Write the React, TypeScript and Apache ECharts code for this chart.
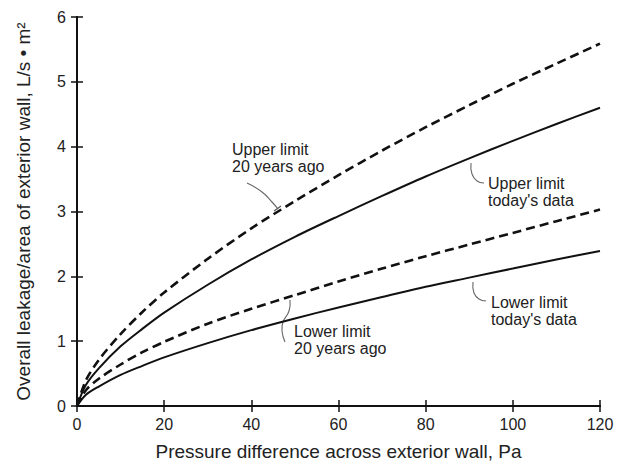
import React, { useEffect, useRef } from "react";
import * as echarts from "echarts";

const pressure = [0, 2, 5, 10, 15, 20, 30, 40, 50, 60, 70, 80, 90, 100, 110, 120];
const upper20YearsAgo = [0, 0.39, 0.71, 1.11, 1.45, 1.75, 2.27, 2.74, 3.16, 3.56, 3.94, 4.3, 4.64, 4.97, 5.28, 5.59];
const upperToday = [0, 0.32, 0.58, 0.92, 1.19, 1.44, 1.87, 2.26, 2.61, 2.93, 3.24, 3.54, 3.82, 4.09, 4.35, 4.6];
const lower20YearsAgo = [0, 0.24, 0.42, 0.64, 0.83, 0.99, 1.27, 1.5, 1.71, 1.92, 2.12, 2.31, 2.49, 2.67, 2.85, 3.03];
const lowerToday = [0, 0.17, 0.3, 0.48, 0.62, 0.75, 0.97, 1.17, 1.35, 1.52, 1.68, 1.84, 1.98, 2.12, 2.26, 2.39];

const xTitle = "Pressure difference across exterior wall, Pa";
const yTitle = "Overall leakage/area of exterior wall, L/s \u2022 m\u00B2";

const FONT = "'Liberation Sans', Arial, sans-serif";

const pairs = (ys: number[]) => pressure.map((x, i) => [x, ys[i]]);

export default function App() {
  const ref = useRef<HTMLDivElement>(null);
  useEffect(() => {
    if (!ref.current) return;
    const chart = echarts.init(ref.current, undefined, { renderer: "svg" });
    const axisCommon = {
      axisLine: { show: true, lineStyle: { color: "#111", width: 2 } },
      axisTick: { show: true, inside: true, length: 6, lineStyle: { color: "#111", width: 1.5 } },
      splitLine: { show: false },
    };
    const labelStyle = { color: "#222", fontSize: 16, fontFamily: FONT };
    const lineSeries = (name: string, ys: number[], dashed: boolean) => ({
      name,
      type: "line",
      data: pairs(ys),
      smooth: 0.3,
      showSymbol: false,
      symbol: "none",
      lineStyle: {
        color: "#111",
        width: dashed ? 2.6 : 2,
        type: dashed ? [9, 5] : "solid",
      },
      xAxisIndex: 0,
      yAxisIndex: 0,
    });
    const textEl = (x: number, y: number, t: string) => ({
      type: "text",
      left: x,
      top: y,
      style: { text: t, fill: "#222", font: `16px ${FONT}`, lineHeight: 17 },
    });
    const leader = (pts: number[][]) => ({
      type: "polyline",
      shape: { points: pts, smooth: 0.5 },
      style: { stroke: "#666", lineWidth: 1.1, fill: null },
    });
    chart.setOption({
      animation: false,
      backgroundColor: "#fff",
      grid: { left: 77, right: 35, top: 17, bottom: 56, containLabel: false, outerBoundsMode: "none" },
      xAxis: [
        {
          type: "value",
          min: 0,
          max: 120,
          interval: 20,
          position: "bottom",
          ...axisCommon,
          axisLabel: { ...labelStyle, margin: 10 },
          name: xTitle,
          nameLocation: "middle",
          nameGap: 36,
          nameTextStyle: { color: "#222", fontSize: 19, fontFamily: FONT },
        },
        {
          type: "value",
          min: 0,
          max: 120,
          interval: 20,
          position: "top",
          ...axisCommon,
          axisLabel: { show: false },
        },
      ],
      yAxis: [
        {
          type: "value",
          min: 0,
          max: 6,
          interval: 1,
          position: "left",
          ...axisCommon,
          axisLabel: { ...labelStyle, margin: 11 },
          name: yTitle,
          nameLocation: "middle",
          nameGap: 44,
          nameTextStyle: { color: "#222", fontSize: 19, fontFamily: FONT },
        },
        {
          type: "value",
          min: 0,
          max: 6,
          interval: 1,
          position: "right",
          ...axisCommon,
          axisLabel: { show: false },
        },
      ],
      series: [
        lineSeries("Upper limit 20 years ago", upper20YearsAgo, true),
        lineSeries("Upper limit today's data", upperToday, false),
        lineSeries("Lower limit 20 years ago", lower20YearsAgo, true),
        lineSeries("Lower limit today's data", lowerToday, false),
      ],
      graphic: [
        textEl(232, 141, "Upper limit\n20 years ago"),
        leader([[247, 183], [262, 192], [272, 202], [278, 209]]),
        { type: "line", shape: { x1: 274, y1: 211, x2: 281, y2: 206 }, style: { stroke: "#555", lineWidth: 1.2 } },
        textEl(488, 175, "Upper limit\ntoday's data"),
        leader([[471, 163], [472, 174], [477, 181], [484, 183]]),
        textEl(294, 323, "Lower limit\n20 years ago"),
        leader([[290, 300], [289, 311], [283, 322], [282, 331], [285, 342]]),
        textEl(491, 294, "Lower limit\ntoday's data"),
        leader([[473, 282], [474, 293], [479, 299], [486, 301]]),
      ],
    });
    return () => chart.dispose();
  }, []);
  return <div ref={ref} style={{ width: 635, height: 462, marginLeft: -8, marginTop: -8 }} />;
}
